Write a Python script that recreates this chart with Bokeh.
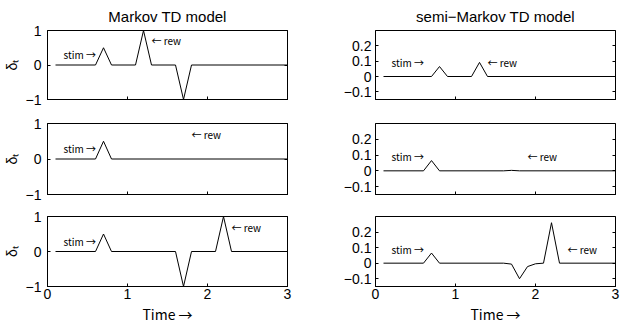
from bokeh.plotting import figure
from bokeh.layouts import column, row
from bokeh.models import FixedTicker, CustomJSTickFormatter, Range1d, LinearAxis
from bokeh.core.properties import value
from bokeh.embed import file_html
from bokeh.resources import INLINE

# ---- data ----
titles = ["Markov TD model", "semi\u2212Markov TD model"]
x_label = "Time \u2192"
y_label = "\u03b4\u209c"
stim_label = "stim \u2192"
rew_label = "\u2190 rew"

x_ticks = [0, 1, 2, 3]
markov_y_ticks = [-1, 0, 1]
semi_y_ticks = [-0.1, 0, 0.1, 0.2]

# Markov TD model, three trials
markov_top_x = [0.1, 0.6, 0.7, 0.8, 1.1, 1.2, 1.3, 1.6, 1.7, 1.8, 3.0]
markov_top_y = [0, 0, 0.5, 0, 0, 1, 0, 0, -1, 0, 0]
markov_mid_x = [0.1, 0.6, 0.7, 0.8, 3.0]
markov_mid_y = [0, 0, 0.5, 0, 0]
markov_bot_x = [0.1, 0.6, 0.7, 0.8, 1.6, 1.7, 1.8, 2.1, 2.2, 2.3, 3.0]
markov_bot_y = [0, 0, 0.5, 0, 0, -1, 0, 0, 1, 0, 0]

# semi-Markov TD model, three trials
semi_top_x = [0.1, 0.7, 0.8, 0.9, 1.2, 1.3, 1.4, 3.0]
semi_top_y = [0, 0, 0.065, 0, 0, 0.092, 0, 0]
semi_mid_x = [0.1, 0.6, 0.7, 0.8, 1.6, 1.7, 1.8, 3.0]
semi_mid_y = [0, 0, 0.065, 0, 0, 0.003, 0, 0]
semi_bot_x = [0.1, 0.6, 0.7, 0.8, 1.6, 1.7, 1.8, 1.9, 2.0, 2.1, 2.2, 2.3, 3.0]
semi_bot_y = [0, 0, 0.065, 0, 0, -0.006, -0.1, -0.022, -0.004, 0, 0.26, 0, 0]

# annotation anchors (x, y) per panel
markov_stim_pos = [(0.2, 0.3), (0.2, 0.3), (0.2, 0.3)]
markov_rew_pos = [(1.3, 0.7), (1.8, 0.7), (2.3, 0.7)]
semi_stim_pos = [(0.2, 0.09), (0.2, 0.09), (0.2, 0.09)]
semi_rew_pos = [(1.4, 0.09), (1.9, 0.09), (2.4, 0.09)]

markov_ylim = (-1, 1)
semi_ylim = (-0.15, 0.3)

FONT = "Liberation Sans"
ARROW_FONT = "Noto Sans CJK SC"

# layout (pixels)
FRAME_W = 240
FRAME_H = [70, 71, 72]
TOP_B = [29, 14, 12]
BOT_B = [10, 10, 38]
TICK = 3

minus_fmt = CustomJSTickFormatter(
    code="var v = Math.round(tick*10)/10; return v.toString().replace('-', '\\u2212');")
blank_fmt = CustomJSTickFormatter(code="return '';")


def ticks_only_axis(ticks):
    ax = LinearAxis(ticker=FixedTicker(ticks=ticks), formatter=blank_fmt)
    ax.major_tick_in = TICK
    ax.major_tick_out = 0
    ax.minor_tick_line_color = None
    ax.axis_line_color = "black"
    ax.major_tick_line_color = "black"
    ax.major_label_standoff = 0
    ax.major_label_text_font_size = "1px"
    return ax


def make_panel(left, row_idx, xs, ys, stim_pos, rew_pos):
    bottom = row_idx == 2
    lb = 47 if left else 50
    rb = 38 if left else 7
    tb = TOP_B[row_idx]
    bb = BOT_B[row_idx]
    ylim = markov_ylim if left else semi_ylim
    yt = markov_y_ticks if left else semi_y_ticks
    kw = {}
    if row_idx == 0:
        kw["title"] = titles[0] if left else titles[1]
    p = figure(width=lb + FRAME_W + rb, height=tb + FRAME_H[row_idx] + bb,
               x_range=Range1d(0, 3), y_range=Range1d(*ylim),
               output_backend="svg", toolbar_location=None,
               min_border_left=lb, min_border_right=rb,
               min_border_top=tb, min_border_bottom=bb, **kw)
    p.background_fill_color = "white"
    p.border_fill_color = "white"
    p.outline_line_color = "black"
    p.outline_line_width = 1
    p.outline_line_alpha = 1
    p.grid.visible = False
    if row_idx == 0:
        p.title.text_font = FONT
        p.title.text_font_size = "15px"
        p.title.text_font_style = "normal"
        p.title.text_color = "black"
        p.title.align = "center"
        p.title.standoff = 11

    # y axis
    ya = p.yaxis[0]
    ya.ticker = FixedTicker(ticks=yt)
    ya.formatter = minus_fmt
    ya.major_tick_in = TICK
    ya.major_tick_out = 0
    ya.minor_tick_line_color = None
    ya.axis_line_color = "black"
    ya.major_tick_line_color = "black"
    ya.major_label_text_font = FONT
    ya.major_label_text_font_size = "14px"
    ya.major_label_text_color = "black"
    ya.major_label_standoff = 6 if left else 4
    if left:
        ya.axis_label = y_label
        ya.axis_label_text_font = FONT
        ya.axis_label_text_font_size = "14px"
        ya.axis_label_text_font_style = "normal"
        ya.axis_label_text_color = "black"
        ya.axis_label_standoff = 3

    # right-side ticks (box ticks)
    p.add_layout(ticks_only_axis(yt), "right")

    # x axis
    xa = p.xaxis[0]
    xa.ticker = FixedTicker(ticks=x_ticks)
    xa.major_tick_in = TICK
    xa.major_tick_out = 0
    xa.minor_tick_line_color = None
    xa.axis_line_color = "black"
    xa.major_tick_line_color = "black"
    if bottom:
        xa.major_label_text_font = FONT
        xa.major_label_text_font_size = "14px"
        xa.major_label_text_color = "black"
        xa.major_label_standoff = 2
        xa.axis_label = x_label
        xa.axis_label_text_font = ARROW_FONT
        xa.axis_label_text_font_size = "14px"
        xa.axis_label_text_font_style = "normal"
        xa.axis_label_text_color = "black"
        xa.axis_label_standoff = 2
    else:
        xa.formatter = blank_fmt
        xa.major_label_standoff = 0
        xa.major_label_text_font_size = "1px"

    p.line(xs, ys, line_color="black", line_width=1)
    p.text(x=[stim_pos[0], rew_pos[0]], y=[stim_pos[1], rew_pos[1]],
           text=[stim_label, rew_label], text_font=value(ARROW_FONT),
           text_font_size=value("10px"), text_baseline="middle",
           text_align="left", text_color="black")
    return p


markov_xs = [markov_top_x, markov_mid_x, markov_bot_x]
markov_ys = [markov_top_y, markov_mid_y, markov_bot_y]
semi_xs = [semi_top_x, semi_mid_x, semi_bot_x]
semi_ys = [semi_top_y, semi_mid_y, semi_bot_y]

rows = []
for i in range(3):
    a = make_panel(True, i, markov_xs[i], markov_ys[i], markov_stim_pos[i], markov_rew_pos[i])
    b = make_panel(False, i, semi_xs[i], semi_ys[i], semi_stim_pos[i], semi_rew_pos[i])
    rows.append(row(a, b, spacing=0))

layout = column(*rows, spacing=0)

open("out.html", "w").write(file_html(layout, INLINE))
